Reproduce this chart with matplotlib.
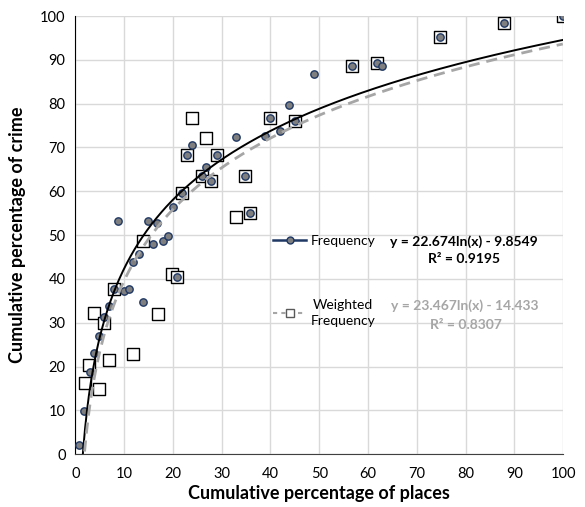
import numpy as np
import matplotlib

matplotlib.use("Agg")
import matplotlib.pyplot as plt
from matplotlib.lines import Line2D

plt.rcParams["font.family"] = ["Lato", "DejaVu Sans"]

# Frequency series (circles)
freq_x = [0.8, 1.8, 2.95, 3.8, 4.9, 5.8, 6.9, 8.0, 10.0, 11.0, 13.8, 11.9, 13.0,
          16.0, 18.0, 19.0, 20.9, 8.8, 15.0, 16.7, 20.0, 21.9, 25.9, 26.8, 27.9,
          22.9, 24.0, 29.0, 32.9, 34.8, 35.9, 38.9, 39.9, 41.9, 43.8, 45.0, 48.9,
          56.8, 61.9, 62.9, 74.8, 87.8, 99.9]
freq_y = [2.1, 9.9, 18.7, 23.0, 27.0, 31.4, 33.8, 37.6, 37.3, 37.8, 34.8, 43.9, 45.6,
          48.0, 48.6, 49.7, 40.4, 53.2, 53.3, 52.7, 56.4, 59.7, 63.5, 65.6, 62.4,
          68.3, 70.6, 68.4, 72.3, 63.6, 55.0, 72.6, 76.7, 73.8, 79.7, 76.1, 86.8,
          88.6, 89.2, 88.6, 95.1, 98.4, 100.0]

# Weighted frequency series (squares)
wfreq_x = [1.9, 2.9, 3.9, 4.9, 5.9, 6.9, 8.0, 11.9, 13.8, 16.9, 19.8, 20.9, 21.9,
           22.9, 24.0, 25.9, 26.8, 27.9, 29.0, 32.9, 34.8, 35.9, 39.9, 45.0, 56.8,
           61.9, 74.8, 87.8, 99.9]
wfreq_y = [16.2, 20.3, 32.2, 15.0, 30.0, 21.5, 37.6, 22.9, 48.7, 32.0, 41.1, 40.4, 59.7,
           68.3, 76.7, 63.5, 72.1, 62.4, 68.4, 54.1, 63.6, 55.0, 76.7, 76.1, 88.6,
           89.2, 95.1, 98.4, 100.0]

# log trendline coefficients shown on the chart
freq_a, freq_b, freq_r2 = 22.674, -9.8549, 0.9195
wfreq_a, wfreq_b, wfreq_r2 = 23.467, -14.433, 0.8307

navy = "#1f3864"
gray_line = "#a6a6a6"

fig = plt.figure(figsize=(5.85, 5.07), dpi=100)
ax = fig.add_axes([0.1287, 0.104, 0.8342, 0.8644])

ax.scatter(wfreq_x, wfreq_y, marker="s", s=80, facecolor="white",
           edgecolor="black", linewidth=1.0, zorder=2)
ax.scatter(freq_x, freq_y, marker="o", s=28, facecolor="#7f7f7f",
           edgecolor=navy, linewidth=1.0, zorder=3)

xs = np.linspace(min(freq_x), max(freq_x), 500)
ax.plot(xs, freq_a * np.log(xs) + freq_b, color="black", lw=1.4, zorder=4)
xs2 = np.linspace(min(wfreq_x), max(wfreq_x), 500)
ax.plot(xs2, wfreq_a * np.log(xs2) + wfreq_b, color=gray_line, lw=2.0,
        dashes=(4, 2.5), zorder=4)

ax.set_xlim(0, 100)
ax.set_ylim(0, 100)
ax.set_xticks(range(0, 101, 10))
ax.set_yticks(range(0, 101, 10))
ax.grid(color="#d9d9d9", lw=1.0)
ax.set_axisbelow(True)
ax.tick_params(length=0, labelsize=10.5)
ax.tick_params(axis="x", pad=9)
ax.tick_params(axis="y", pad=7)
for s in ["top", "right"]:
    ax.spines[s].set_visible(False)
ax.spines["left"].set_color("black")
ax.spines["bottom"].set_color("#404040")

ax.set_xlabel("Cumulative percentage of places", fontsize=13, fontweight="bold", labelpad=3)
ax.set_ylabel("Cumulative percentage of crime", fontsize=13, fontweight="bold", labelpad=10)

handles = [
    Line2D([], [], color=navy, lw=1.8, marker="o", markersize=5,
           markerfacecolor="#7f7f7f", markeredgecolor=navy),
    Line2D([], [], color=gray_line, lw=1.5, dashes=(2, 2), marker="s", markersize=6,
           markerfacecolor="white", markeredgecolor="#595959"),
]
leg = ax.legend(handles, ["Frequency", "Weighted\nFrequency"], loc="upper left",
                bbox_to_anchor=(0.405, 0.50), frameon=False, fontsize=10,
                borderpad=0, borderaxespad=0, handlelength=2.4, handletextpad=0.3,
                labelspacing=3.7, numpoints=1)
for t in leg.get_texts():
    t.set_multialignment("center")
    t.set_linespacing(1.4)

ax.text(79.7, 48.5, "y = 22.674ln(x) - 9.8549", ha="center", va="center",
        fontsize=10, fontweight="bold", color="black")
ax.text(79.7, 44.5, f"R² = {freq_r2}", ha="center", va="center",
        fontsize=10, fontweight="bold", color="black")
ax.text(79.9, 33.9, "y = 23.467ln(x) - 14.433", ha="center", va="center",
        fontsize=10, fontweight="bold", color=gray_line)
ax.text(80.1, 29.5, f"R² = {wfreq_r2}", ha="center", va="center",
        fontsize=10, fontweight="bold", color=gray_line)

fig.savefig("out.png", dpi=100)
